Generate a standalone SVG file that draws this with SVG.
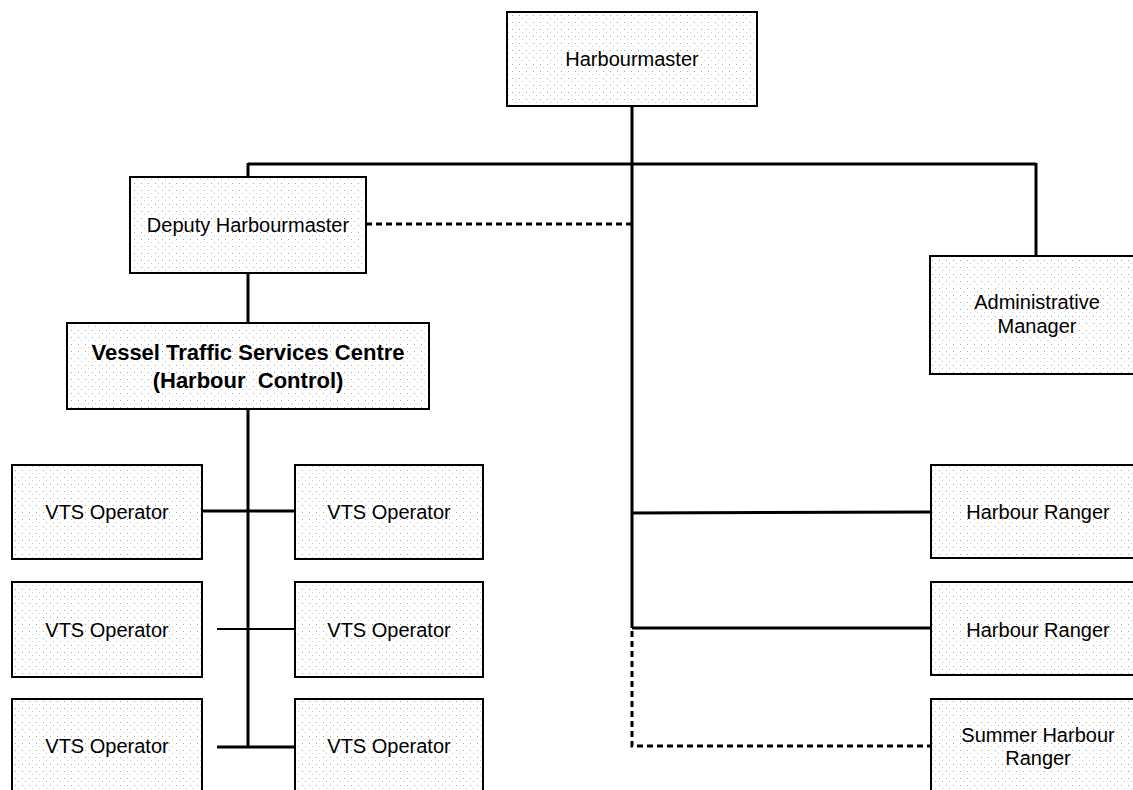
<svg xmlns="http://www.w3.org/2000/svg" width="1133" height="790" viewBox="0 0 1133 790">
<defs>
<pattern id="stip" width="7" height="7" patternUnits="userSpaceOnUse">
<rect width="7" height="7" fill="#ffffff"/>
<rect x="1" y="1" width="1" height="1" fill="#a8a8a8"/>
<rect x="4" y="4" width="1" height="1" fill="#c8c8c8"/>
</pattern>
</defs>
<style>
.box{fill:url(#stip);stroke:#000;stroke-width:2}
.t{font-family:"Liberation Sans",Arial,sans-serif;font-size:20px;fill:#000;text-anchor:middle}
.b{font-family:"Liberation Sans",Arial,sans-serif;font-size:22px;font-weight:bold;fill:#000;text-anchor:middle}
.ln{stroke:#000;stroke-width:3;fill:none}
.thin{stroke:#000;stroke-width:2;fill:none}
.dash{stroke:#000;stroke-width:3;fill:none;stroke-dasharray:6 4}
</style>
<rect width="1133" height="790" fill="#ffffff"/>
<g id="connectors">
<line class="ln" x1="632" y1="106" x2="632" y2="628"/>
<line class="ln" x1="248" y1="164" x2="1036" y2="164"/>
<line class="ln" x1="248" y1="163" x2="248" y2="177"/>
<line class="ln" x1="1036" y1="163" x2="1036" y2="256"/>
<line class="dash" x1="366" y1="224" x2="631" y2="224"/>
<line class="ln" x1="248" y1="273" x2="248" y2="323"/>
<line class="ln" x1="248" y1="409" x2="248" y2="748"/>
<line class="ln" x1="202" y1="511" x2="295" y2="511"/>
<line class="thin" x1="217" y1="629" x2="295" y2="629"/>
<line class="ln" x1="217" y1="747" x2="295" y2="747"/>
<line class="ln" x1="632" y1="513" x2="931" y2="512"/>
<line class="ln" x1="632" y1="628" x2="931" y2="628"/>
<path class="dash" d="M632,631 V746 H930"/>
</g>
<g id="harbourmaster">
<rect class="box" x="507" y="12" width="250" height="94"/>
<text class="t" x="632" y="66">Harbourmaster</text>
</g>
<g id="deputy">
<rect class="box" x="130" y="177" width="236" height="96"/>
<text class="t" x="248" y="232">Deputy Harbourmaster</text>
</g>
<g id="vts-centre">
<rect class="box" x="67" y="323" width="362" height="86"/>
<text class="b" x="248" y="360">Vessel Traffic Services Centre</text>
<text class="b" x="248" y="388" xml:space="preserve">(Harbour  Control)</text>
</g>
<g id="admin">
<rect class="box" x="930" y="256" width="220" height="118"/>
<text class="t" x="1037" y="309">Administrative</text>
<text class="t" x="1037" y="333">Manager</text>
</g>
<g id="vts1">
<rect class="box" x="12" y="465" width="190" height="94"/>
<text class="t" x="107" y="519">VTS Operator</text>
</g>
<g id="vts2">
<rect class="box" x="295" y="465" width="188" height="94"/>
<text class="t" x="389" y="519">VTS Operator</text>
</g>
<g id="vts3">
<rect class="box" x="12" y="582" width="190" height="95"/>
<text class="t" x="107" y="637">VTS Operator</text>
</g>
<g id="vts4">
<rect class="box" x="295" y="582" width="188" height="95"/>
<text class="t" x="389" y="637">VTS Operator</text>
</g>
<g id="vts5">
<rect class="box" x="12" y="699" width="190" height="110"/>
<text class="t" x="107" y="753">VTS Operator</text>
</g>
<g id="vts6">
<rect class="box" x="295" y="699" width="188" height="110"/>
<text class="t" x="389" y="753">VTS Operator</text>
</g>
<g id="ranger1">
<rect class="box" x="931" y="465" width="220" height="93"/>
<text class="t" x="1038" y="519">Harbour Ranger</text>
</g>
<g id="ranger2">
<rect class="box" x="931" y="582" width="220" height="93"/>
<text class="t" x="1038" y="637">Harbour Ranger</text>
</g>
<g id="summer">
<rect class="box" x="931" y="699" width="220" height="110"/>
<text class="t" x="1038" y="742">Summer Harbour</text>
<text class="t" x="1038" y="765">Ranger</text>
</g>
</svg>
